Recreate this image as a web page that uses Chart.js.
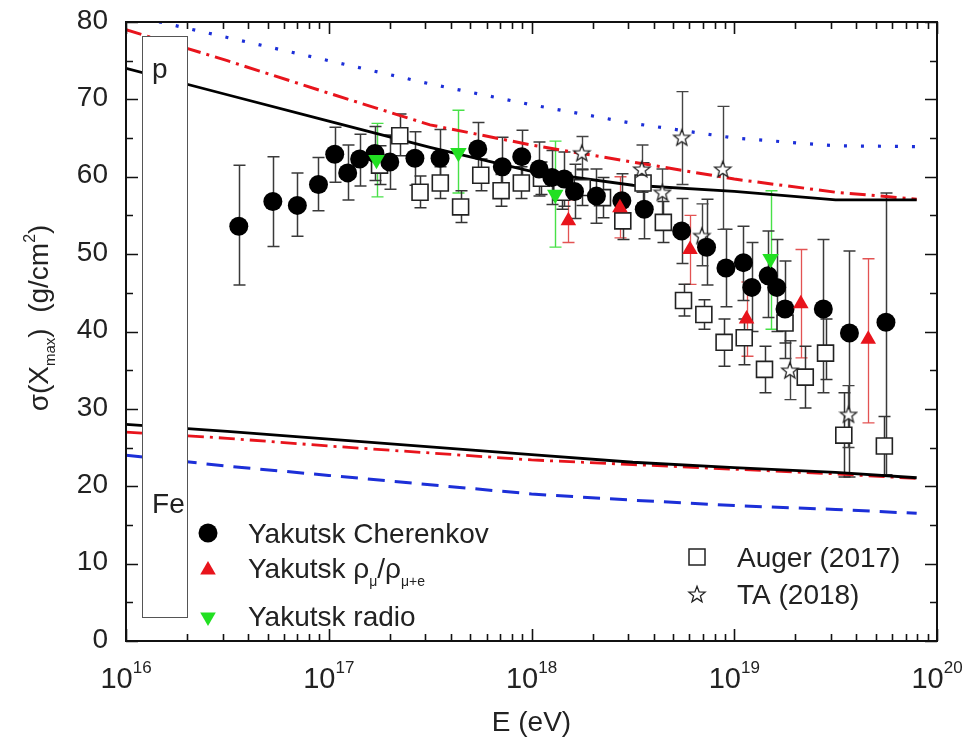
<!DOCTYPE html>
<html>
<head>
<meta charset="utf-8">
<script src="https://cdn.jsdelivr.net/npm/chart.js@4.4.0/dist/chart.umd.min.js"></script>
<style>
  html, body { margin: 0; padding: 0; background: #fff; }
</style>
</head>
<body>
<canvas id="sigmaChart" width="977" height="747"></canvas>
<script>
// Yakutsk Cherenkov
const cherE = [3.6e16, 5.3e16, 7.0e16, 8.9e16, 1.07e17, 1.24e17, 1.42e17, 1.69e17, 2.0e17, 2.66e17, 3.54e17, 5.43e17, 7.18e17, 8.95e17, 1.09e18, 1.26e18, 1.45e18, 1.63e18, 2.09e18, 2.79e18, 3.6e18, 5.5e18, 7.3e18, 9.1e18, 1.11e19, 1.22e19, 1.47e19, 1.62e19, 1.78e19, 2.75e19, 3.7e19, 5.6e19];
const cherSigma = [53.6, 56.8, 56.3, 59.0, 62.9, 60.5, 62.3, 63.0, 61.9, 62.4, 62.4, 63.6, 61.3, 62.6, 61.0, 59.9, 59.7, 58.1, 57.5, 56.9, 55.8, 53.0, 50.9, 48.2, 48.9, 45.7, 47.2, 45.7, 42.9, 42.9, 39.8, 41.2];
const cherLow = [46.0, 51.0, 52.3, 55.6, 59.3, 57.0, 58.8, 59.5, 58.4, 58.9, 59.0, 60.2, 57.5, 59.1, 57.5, 56.4, 56.2, 54.6, 54.0, 53.4, 52.0, 48.8, 46.0, 43.2, 44.0, 40.0, 41.8, 40.0, 36.5, 32.1, 21.2, 21.5];
const cherHigh = [61.5, 62.6, 60.5, 62.5, 66.4, 64.1, 65.5, 66.5, 65.4, 65.8, 66.1, 67.0, 65.1, 66.0, 64.5, 63.4, 63.2, 61.6, 61.0, 60.4, 59.5, 57.2, 57.1, 53.2, 53.6, 51.5, 53.0, 51.9, 49.1, 51.9, 50.4, 57.9];

// Yakutsk rho_mu / rho_mu+e
const muonE = [1.52e18, 2.73e18, 6.05e18, 1.15e19, 2.13e19, 4.58e19];
const muonSigma = [54.3, 56.0, 50.6, 41.6, 43.6, 39.0];
const muonLow = [51.5, 52.1, 46.1, 36.8, 36.6, 28.2];
const muonHigh = [57.0, 60.0, 55.0, 46.4, 50.6, 49.4];

// Yakutsk radio
const radioE = [1.72e17, 4.36e17, 1.31e18, 1.51e19];
const radioSigma = [62.2, 63.1, 57.7, 49.4];
const radioLow = [57.4, 57.9, 50.9, 40.3];
const radioHigh = [66.9, 68.6, 64.6, 58.2];

// Auger (2017)
const augerE = [1.78e17, 2.24e17, 2.82e17, 3.55e17, 4.47e17, 5.62e17, 7.08e17, 8.91e17, 1.12e18, 1.41e18, 1.78e18, 2.24e18, 2.82e18, 3.55e18, 4.47e18, 5.62e18, 7.08e18, 8.91e18, 1.12e19, 1.41e19, 1.78e19, 2.24e19, 2.82e19, 3.47e19, 5.5e19];
const augerSigma = [61.5, 65.3, 58.0, 59.2, 56.1, 60.2, 58.2, 59.2, 59.8, 58.0, 58.6, 57.3, 54.3, 59.2, 54.1, 44.0, 42.2, 38.6, 39.2, 35.1, 41.1, 34.1, 37.2, 26.6, 25.2];
const augerLow = [59.0, 62.7, 56.0, 57.2, 54.1, 58.2, 56.2, 57.2, 57.7, 55.8, 56.3, 54.7, 51.9, 56.6, 51.5, 42.0, 40.3, 35.5, 35.7, 32.1, 38.5, 30.1, 33.8, 21.2, 21.5];
const augerHigh = [64.0, 68.1, 60.1, 61.3, 58.2, 62.3, 60.3, 61.3, 61.9, 60.2, 60.9, 59.9, 56.7, 61.8, 56.8, 46.1, 44.1, 41.6, 41.6, 38.1, 43.8, 38.1, 41.6, 32.1, 29.0];

// TA (2018)
const taE = [1.77e18, 3.5e18, 4.42e18, 5.51e18, 6.92e18, 8.77e18, 1.88e19, 3.66e19];
const taSigma = [63.1, 61.0, 58.0, 65.1, 52.4, 61.0, 35.0, 29.3];
const taLow = [61.0, 58.0, 55.0, 59.0, 48.5, 53.2, 31.2, 25.0];
const taHigh = [65.2, 64.1, 61.0, 71.0, 56.5, 69.1, 38.8, 33.0];

// model curves (p upper, Fe lower)
const modelE = [1e16, 3.16e16, 1e17, 3.16e17, 1e18, 3.16e18, 1e19, 3.16e19, 7.94e19];
const solidP = [74.0, 70.6, 67.2, 63.8, 60.7, 58.9, 58.1, 57.0, 57.0];
const dashDotP = [79.0, 75.0, 70.8, 66.7, 64.1, 61.9, 59.7, 58.0, 57.1];
const dottedP = [81.0, 78.0, 75.0, 72.0, 69.3, 66.9, 65.0, 64.0, 63.9];
const solidFe = [28.0, 27.1, 26.1, 25.1, 24.1, 23.1, 22.4, 21.8, 21.1];
const dashDotFe = [27.0, 26.2, 25.2, 24.3, 23.4, 22.8, 22.2, 21.6, 21.0];
const dashedFe = [24.0, 22.6, 21.4, 20.2, 19.0, 18.2, 17.5, 17.0, 16.5];

const xTickValues = [1e16, 1e17, 1e18, 1e19, 1e20];
const xTickExp = ['16', '17', '18', '19', '20'];
const yTickValues = [0, 10, 20, 30, 40, 50, 60, 70, 80];
const boxE = [1.2e16, 2.0e16];
const boxSigma = [3.1, 78.2];

const FONT = '"Liberation Sans", Arial, sans-serif';
const RED = '#e8141c';
const GREEN = '#22e022';
const BLUE = '#1c2fd8';

function pts(xs, ys) {
  return xs.map((x, i) => ({ x: x, y: ys[i] }));
}

// hollow star marker
function makeStar(size) {
  const c = document.createElement('canvas');
  c.width = size; c.height = size;
  const g = c.getContext('2d');
  const cx = size / 2, cy = size / 2 + 0.8, ro = size / 2 - 1.5, ri = ro * 0.42;
  g.beginPath();
  for (let k = 0; k < 10; k++) {
    const r = k % 2 ? ri : ro;
    const a = -Math.PI / 2 + k * Math.PI / 5;
    g.lineTo(cx + r * Math.cos(a), cy + r * Math.sin(a));
  }
  g.closePath();
  g.fillStyle = '#fff';
  g.fill();
  g.strokeStyle = '#222';
  g.lineWidth = 1.3;
  g.stroke();
  return c;
}
const starImg = makeStar(20);

function lineSet(label, ys, color, dash, width) {
  return {
    label: label, data: pts(modelE, ys), showLine: true, pointRadius: 0,
    borderColor: color, borderWidth: width, borderDash: dash, tension: 0,
    fill: false, order: 10
  };
}

// text made of pieces with sub/superscripts
function richWidth(ctx, parts) {
  let w = 0;
  parts.forEach(p => { ctx.font = p.size + 'px ' + FONT; w += ctx.measureText(p.t).width; });
  return w;
}
function drawRich(ctx, parts, x, y) {
  let cx = x;
  parts.forEach(p => {
    ctx.font = p.size + 'px ' + FONT;
    ctx.fillText(p.t, cx, y + (p.dy || 0));
    cx += ctx.measureText(p.t).width;
  });
}

function marker(ctx, kind, x, y) {
  ctx.save();
  if (kind === 'circle') {
    ctx.fillStyle = '#000';
    ctx.beginPath(); ctx.arc(x, y, 9.5, 0, Math.PI * 2); ctx.fill();
  } else if (kind === 'up' || kind === 'down') {
    const r = 9, s = kind === 'up' ? 1 : -1;
    ctx.fillStyle = kind === 'up' ? RED : GREEN;
    ctx.beginPath();
    ctx.moveTo(x, y - s * r);
    ctx.lineTo(x + r * 0.866, y + s * r / 2);
    ctx.lineTo(x - r * 0.866, y + s * r / 2);
    ctx.closePath(); ctx.fill();
  } else if (kind === 'square') {
    ctx.strokeStyle = '#222'; ctx.lineWidth = 1.5;
    ctx.strokeRect(x - 8, y - 8, 16, 16);
  } else if (kind === 'star') {
    ctx.drawImage(starImg, x - starImg.width / 2, y - starImg.height / 2);
  }
  ctx.restore();
}

const decor = {
  id: 'decor',
  beforeDatasetsDraw(chart) {
    const ctx = chart.ctx, xs = chart.scales.x, ys = chart.scales.y, a = chart.chartArea;
    ctx.save();
    ctx.beginPath(); ctx.rect(a.left, a.top, a.right - a.left, a.bottom - a.top); ctx.clip();
    chart.data.datasets.forEach(ds => {
      if (!ds.errLow) return;
      ctx.strokeStyle = ds.errColor;
      ctx.lineWidth = ds.errWidth;
      ds.data.forEach((p, i) => {
        const x = Math.round(xs.getPixelForValue(p.x)) + 0.5;
        const y1 = ys.getPixelForValue(ds.errLow[i]);
        const y2 = ys.getPixelForValue(ds.errHigh[i]);
        ctx.beginPath();
        ctx.moveTo(x, y1); ctx.lineTo(x, y2);
        ctx.moveTo(x - 6, y1); ctx.lineTo(x + 6, y1);
        ctx.moveTo(x - 6, y2); ctx.lineTo(x + 6, y2);
        ctx.stroke();
      });
    });
    ctx.restore();
  },
  afterDatasetsDraw(chart) {
    const ctx = chart.ctx, xs = chart.scales.x, ys = chart.scales.y, a = chart.chartArea;
    ctx.save();

    // p / Fe box
    const bx1 = xs.getPixelForValue(boxE[0]), bx2 = xs.getPixelForValue(boxE[1]);
    const by1 = ys.getPixelForValue(boxSigma[1]), by2 = ys.getPixelForValue(boxSigma[0]);
    ctx.fillStyle = '#fff';
    ctx.fillRect(bx1, by1, bx2 - bx1, by2 - by1);
    ctx.strokeStyle = '#555'; ctx.lineWidth = 1;
    ctx.strokeRect(Math.round(bx1) + 0.5, Math.round(by1) + 0.5, Math.round(bx2 - bx1), Math.round(by2 - by1));
    ctx.fillStyle = '#222';
    ctx.font = '28px ' + FONT;
    ctx.textAlign = 'left'; ctx.textBaseline = 'alphabetic';
    ctx.fillText('p', bx1 + 10, by1 + 42);
    ctx.fillText('Fe', bx1 + 10, by2 - 104);

    // frame
    ctx.strokeStyle = '#111'; ctx.lineWidth = 2;
    ctx.strokeRect(a.left, a.top, a.right - a.left, a.bottom - a.top);

    // inward ticks
    ctx.lineWidth = 1.6;
    ctx.beginPath();
    for (let v = 0; v <= 80; v += 5) {
      const y = Math.round(ys.getPixelForValue(v)) + 0.5;
      const len = v % 10 === 0 ? 12 : 7;
      ctx.moveTo(a.left, y); ctx.lineTo(a.left + len, y);
      ctx.moveTo(a.right, y); ctx.lineTo(a.right - len, y);
    }
    for (let d = 0; d < xTickValues.length; d++) {
      for (let m = 1; m <= 9; m++) {
        const val = xTickValues[d] * m;
        if (val > xTickValues[xTickValues.length - 1]) break;
        const x = Math.round(xs.getPixelForValue(val)) + 0.5;
        const len = m === 1 ? 12 : 7;
        ctx.moveTo(x, a.bottom); ctx.lineTo(x, a.bottom - len);
        ctx.moveTo(x, a.top); ctx.lineTo(x, a.top + len);
      }
    }
    ctx.stroke();

    // y tick labels
    ctx.fillStyle = '#222';
    ctx.font = '28px ' + FONT;
    ctx.textAlign = 'right'; ctx.textBaseline = 'middle';
    yTickValues.forEach(v => ctx.fillText(String(v), a.left - 18, ys.getPixelForValue(v) - 1));

    // x tick labels 10^n
    ctx.textAlign = 'left'; ctx.textBaseline = 'alphabetic';
    xTickValues.forEach((v, i) => {
      const parts = [{ t: '10', size: 29 }, { t: xTickExp[i], size: 17, dy: -15 }];
      const w = richWidth(ctx, parts);
      drawRich(ctx, parts, xs.getPixelForValue(v) - w / 2, 688);
    });

    // axis titles
    ctx.font = '28px ' + FONT;
    ctx.textAlign = 'center';
    ctx.fillText('E (eV)', (a.left + a.right) / 2, 731);
    ctx.textAlign = 'left';
    const yTitle = [
      { t: '\u03c3(X', size: 28 }, { t: 'max', size: 15, dy: 7 }, { t: ')  (g/cm', size: 28 },
      { t: '2', size: 16, dy: -13 }, { t: ')', size: 28 }
    ];
    ctx.save();
    ctx.translate(48, 318);
    ctx.rotate(-Math.PI / 2);
    drawRich(ctx, yTitle, -richWidth(ctx, yTitle) / 2, 0);
    ctx.restore();

    // legend
    ctx.fillStyle = '#222';
    ctx.textBaseline = 'alphabetic';
    marker(ctx, 'circle', 208, 533);
    drawRich(ctx, [{ t: 'Yakutsk Cherenkov', size: 28 }], 248, 543);
    marker(ctx, 'up', 208, 570);
    drawRich(ctx, [
      { t: 'Yakutsk \u03c1', size: 28 }, { t: '\u03bc', size: 14, dy: 8 }, { t: '/\u03c1', size: 28 },
      { t: '\u03bc+e', size: 14, dy: 8 }
    ], 248, 578);
    marker(ctx, 'down', 208, 617);
    drawRich(ctx, [{ t: 'Yakutsk radio', size: 28 }], 248, 626);

    marker(ctx, 'square', 697, 557);
    drawRich(ctx, [{ t: 'Auger (2017)', size: 28 }], 737, 567);
    marker(ctx, 'star', 697, 594);
    drawRich(ctx, [{ t: 'TA (2018)', size: 28 }], 737, 604);

    ctx.restore();
  }
};

const ctx = document.getElementById('sigmaChart').getContext('2d');
const sigmaChart = new Chart(ctx, {
  type: 'scatter',
  data: {
    datasets: [
      {
        label: 'Yakutsk radio', data: pts(radioE, radioSigma), order: 0,
        pointStyle: 'triangle', rotation: 180, pointRadius: 9.5, backgroundColor: GREEN, borderWidth: 0,
        errLow: radioLow, errHigh: radioHigh, errColor: 'rgba(40,220,40,0.85)', errWidth: 1.4
      },
      {
        label: 'Yakutsk rho', data: pts(muonE, muonSigma), order: 1,
        pointStyle: 'triangle', pointRadius: 9, backgroundColor: RED, borderWidth: 0,
        errLow: muonLow, errHigh: muonHigh, errColor: 'rgba(220,40,40,0.8)', errWidth: 1.3
      },
      {
        label: 'Yakutsk Cherenkov', data: pts(cherE, cherSigma), order: 2,
        pointStyle: 'circle', pointRadius: 9.5, backgroundColor: '#000', borderWidth: 0,
        errLow: cherLow, errHigh: cherHigh, errColor: '#3a3a3a', errWidth: 1.5
      },
      {
        label: 'TA (2018)', data: pts(taE, taSigma), order: 3,
        pointStyle: starImg, pointRadius: 9,
        errLow: taLow, errHigh: taHigh, errColor: '#444', errWidth: 1.4
      },
      {
        label: 'Auger (2017)', data: pts(augerE, augerSigma), order: 4,
        pointStyle: 'rect', pointRadius: 11.3, backgroundColor: '#fff', borderColor: '#222', borderWidth: 1.6,
        errLow: augerLow, errHigh: augerHigh, errColor: '#333', errWidth: 1.5
      },
      lineSet('solid p', solidP, '#000', [], 2.8),
      lineSet('dash-dot p', dashDotP, RED, [16, 6, 3, 6], 3),
      lineSet('dotted p', dottedP, BLUE, [3, 14], 3.2),
      lineSet('solid Fe', solidFe, '#000', [], 2.8),
      lineSet('dash-dot Fe', dashDotFe, RED, [16, 6, 3, 6], 2.8),
      lineSet('dashed Fe', dashedFe, BLUE, [17, 10], 3)
    ]
  },
  options: {
    responsive: false,
    animation: false,
    events: [],
    layout: { padding: { top: 22, right: 40, left: 0, bottom: 0 } },
    plugins: { legend: { display: false }, tooltip: { enabled: false } },
    scales: {
      x: {
        type: 'logarithmic', min: 1e16, max: 1e20,
        grid: { display: false, drawTicks: false }, border: { display: false },
        ticks: { display: false },
        afterFit: s => { s.height = 106; }
      },
      y: {
        min: 0, max: 80,
        grid: { display: false, drawTicks: false }, border: { display: false },
        ticks: { display: false },
        afterFit: s => { s.width = 126; }
      }
    }
  },
  plugins: [decor]
});
</script>
</body>
</html>
